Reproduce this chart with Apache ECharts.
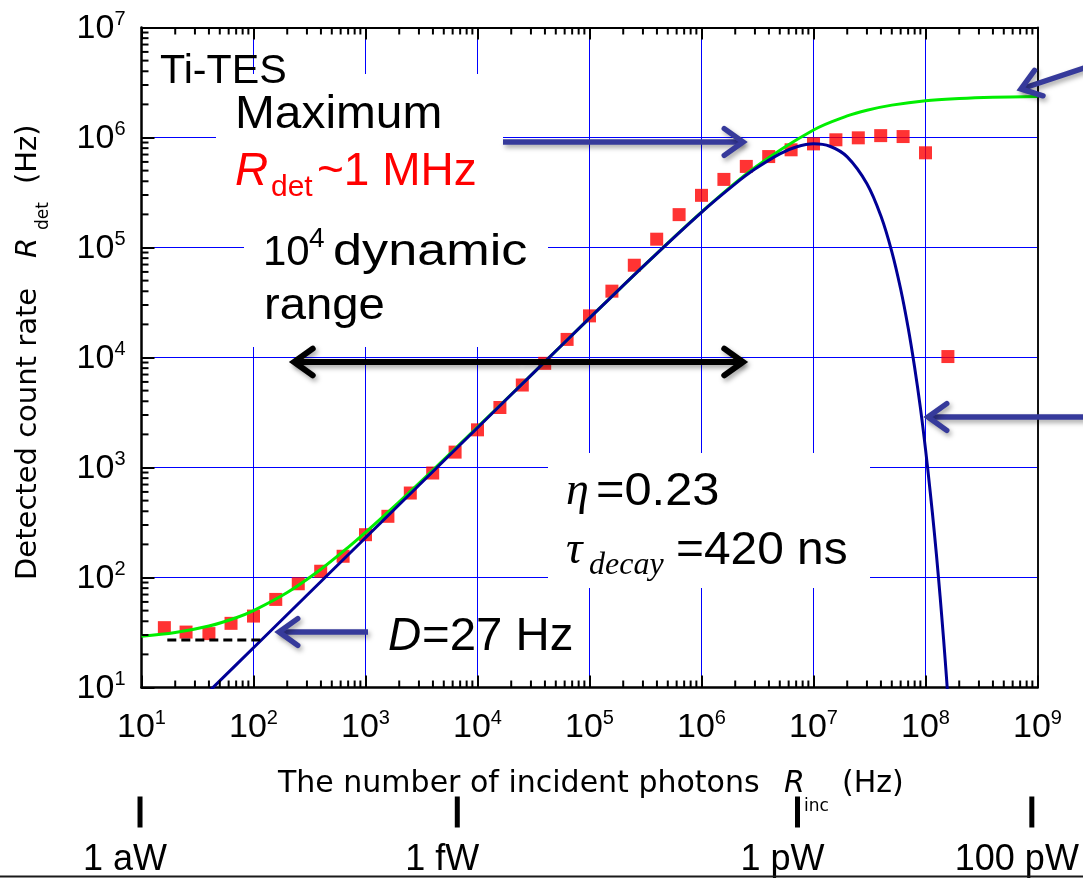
<!DOCTYPE html>
<html>
<head>
<meta charset="utf-8">
<script src="https://cdn.jsdelivr.net/npm/echarts@6/dist/echarts.min.js"></script>
<style>
html,body{margin:0;padding:0;background:#ffffff;}
#chart{width:1083px;height:878px;}
</style>
</head>
<body>
<div id="chart"></div>
<script>
// Measured detected count rate of the Ti-TES vs. incident photon rate (Hz)
const incidentRate = [16, 25, 40, 63, 100, 158, 251, 398, 631, 1000, 1585, 2512, 3981, 6310,
  1.0e4, 1.585e4, 2.512e4, 3.981e4, 6.31e4, 1.0e5, 1.585e5, 2.512e5, 3.981e5, 6.31e5,
  1.0e6, 1.585e6, 2.512e6, 3.981e6, 6.31e6, 1.0e7, 1.585e7, 2.512e7, 3.981e7, 6.31e7,
  1.0e8, 1.585e8];
const detectedRate = [35, 31.9, 30.9, 38.3, 44.6, 63.2, 87.7, 114, 156, 245, 360, 586, 891, 1380,
  2200, 3510, 5620, 8850, 14600, 23900, 40100, 69000, 119000, 199000,
  298000, 416000, 546000, 671000, 773000, 875000, 953000, 993000, 1040000, 1020000,
  726000, 10200];

// Non-paralyzable response curve (green)
const nonParalyzableX = [10, 20, 40, 70, 100, 200, 400, 700, 1000, 2000, 4000, 1e4, 3e4, 1e5, 3e5,
  1e6, 3e6, 1e7, 2e7, 3e7, 5e7, 1e8, 2e8, 4e8, 1e9];
const nonParalyzableY = [29.3, 31.6, 36.2, 43.1, 50, 73, 119, 188, 257, 487, 947, 2330, 6880, 22800, 67100,
  210000, 535000, 1170000, 1570000, 1770000, 1970000, 2160000, 2260000, 2320000, 2360000];

// Paralyzable response curve (navy)
const paralyzableX = [40, 100, 300, 1000, 3000, 1e4, 3e4, 1e5, 3e5, 1e6, 2e6, 3e6, 5e6, 7e6, 1e7,
  1.4e7, 2e7, 3e7, 4e7, 5e7, 6e7, 7e7, 8e7, 9e7, 1e8, 1.1e8, 1.2e8, 1.3e8, 1.4e8, 1.5e8, 1.6e8];
const paralyzableY = [9.2, 23, 69, 230, 690, 2300, 6880, 22800, 67100, 209000, 379000, 516000, 710000, 819000, 877000,
  833000, 667000, 380000, 193000, 91800, 41900, 18600, 8100, 3500, 1470, 608, 255, 105, 43, 17.6, 7.1];

// Dark count level D
const darkCountX = [17, 117];
const darkCountY = [27, 27];

// Optical power scale drawn under the photon-rate axis
const powerMarkRate = [9.7, 6.6e3, 7.2e6, 8.9e8];
const powerMarkLabel = ['1 aW', '1 fW', '1 pW', '100 pW'];

// Axis ranges and tick values
const xMin = 10, xMax = 1e9;
const yMin = 10, yMax = 1e7;
const minorMultipliers = [2, 3, 4, 5, 6, 7, 8, 9];

const SANS = '"Liberation Sans", Arial, Helvetica, sans-serif';
const SERIF = '"Liberation Serif", "Times New Roman", serif';
const TITLE = '"DejaVu Sans", "Liberation Sans", sans-serif';
const ARROW = '#363a9b';
const GRID_BLUE = '#0000ff';

function zip(xs, ys) { return xs.map((x, i) => [x, ys[i]]); }

function minorValues(lo, hi) {
  const out = [];
  for (let d = lo; d < hi; d *= 10) minorMultipliers.forEach(m => out.push(m * d));
  return out;
}

// text element positioned by its alphabetic baseline
function txt(text, left, baseline, size, opts) {
  opts = opts || {};
  const family = opts.family || SANS;
  const style = (opts.italic ? 'italic ' : '') + size + 'px ' + family;
  return {
    type: 'text', z: 30, x: left, y: baseline - 0.347 * size, scaleX: opts.sx || 1,
    style: { text: text, font: style, fill: opts.color || '#000', align: 'left', verticalAlign: 'middle' }
  };
}
// rotated (reading bottom to top) text; baselineX is the screen x of the baseline
function vtxt(text, baselineX, start, size, opts) {
  opts = opts || {};
  const style = (opts.italic ? 'italic ' : '') + size + 'px ' + (opts.family || TITLE);
  return {
    type: 'text', z: 30, x: baselineX - 0.347 * size, y: start, rotation: Math.PI / 2,
    style: { text: text, font: style, fill: '#000', align: 'left', verticalAlign: 'middle' }
  };
}

const shadow = { shadowBlur: 5, shadowColor: 'rgba(0,0,0,0.35)', shadowOffsetX: 2, shadowOffsetY: 3 };
function arrow(x1, y1, x2, y2, color, width) {
  // shaft from (x1,y1) to the tip (x2,y2) with an open V head
  const a = Math.atan2(y1 - y2, x1 - x2);
  const L = 23, s = 0.62;
  const p1 = [x2 + L * Math.cos(a + s), y2 + L * Math.sin(a + s)];
  const p2 = [x2 + L * Math.cos(a - s), y2 + L * Math.sin(a - s)];
  return [
    { type: 'line', z: 25, shape: { x1: x1, y1: y1, x2: x2, y2: y2 },
      style: Object.assign({ stroke: color, lineWidth: width, lineCap: 'butt' }, shadow) },
    { type: 'polyline', z: 25, shape: { points: [p1, [x2, y2], p2] },
      style: Object.assign({ stroke: color, lineWidth: width, fill: null, lineCap: 'round', lineJoin: 'miter' }, shadow) }
  ];
}

// white text-box backgrounds that interrupt the grid
const whiteBoxes = [
  [216, 74, 287, 141],
  [244, 215, 304, 132],
  [548, 453, 322, 135]
].map(r => ({ type: 'rect', z: 1, shape: { x: r[0], y: r[1], width: r[2], height: r[3] },
  style: { fill: '#ffffff' }, silent: true }));

const labelRich = {
  b: { fontSize: 34, fontFamily: SANS, color: '#000', lineHeight: 36, verticalAlign: 'bottom' },
  s: { fontSize: 20, fontFamily: SANS, color: '#000', lineHeight: 20, verticalAlign: 'top' }
};
const powerLabel = v => '{b|10}{s|' + Math.round(Math.log10(v)) + '}';

const graphics = [].concat(
  whiteBoxes,
  [
    txt('Ti-TES', 160, 86, 40, { sx: 1.03 }),
    txt('Maximum', 235, 131, 46, { sx: 1.04 }),
    txt('R', 235, 188, 46, { italic: true, color: '#ff0000' }),
    txt('det', 271, 198, 30, { color: '#ff0000' }),
    txt('~1 MHz', 317, 188, 46, { color: '#ff0000' }),
    txt('10', 263, 268, 42),
    txt('4', 309, 249, 28),
    txt('dynamic', 333, 268, 45, { sx: 1.16 }),
    txt('range', 264, 322, 45, { sx: 1.05 }),
    txt('\u03b7', 566, 508, 46, { italic: true, family: SERIF }),
    txt('=0.23', 596, 508, 46, { sx: 1.06 }),
    txt('\u03c4', 566, 567, 46, { italic: true, family: SERIF }),
    txt('decay', 589, 577, 32, { italic: true, family: SERIF }),
    txt('=420 ns', 676, 567, 46, { sx: 1.04 }),
    txt('D', 388, 653, 46, { italic: true }),
    txt('=27 Hz', 422, 653, 46, { sx: 1.03 }),
    // x axis title
    txt('The number of incident photons', 278, 795, 30, { family: TITLE }),
    txt('R', 784, 795, 30, { italic: true, family: TITLE }),
    txt('inc', 804, 812, 17, { family: TITLE }),
    txt('(Hz)', 842, 795, 30, { family: TITLE }),
    // y axis title
    vtxt('Detected count rate', 39, 580, 29),
    vtxt('R', 39, 258, 29, { italic: true }),
    vtxt('det', 49, 230, 17),
    vtxt('(Hz)', 39, 184, 29),
    { type: 'rect', z: 20, shape: { x: 0, y: 875.5, width: 1083, height: 2 }, style: { fill: '#1a1a1a' } }
  ],
  arrow(503, 142, 743, 142, ARROW, 5.5),
  arrow(368, 632, 279, 632, ARROW, 5.5),
  arrow(1090, 417, 928, 417, ARROW, 5.5),
  arrow(1090, 66, 1021, 89, ARROW, 5.5),
  arrow(520, 362, 294, 362, '#000', 6),
  arrow(520, 362, 743, 362, '#000', 6)
);

const chart = echarts.init(document.getElementById('chart'), null, { renderer: 'canvas' });

chart.setOption({
  animation: false,
  backgroundColor: '#ffffff',
  grid: { left: 141.5, right: 45.5, top: 27.5, bottom: 190.5, containLabel: false, outerBoundsMode: 'none' },
  xAxis: [
    {
      type: 'log', logBase: 10, min: xMin, max: xMax, position: 'bottom',
      axisLine: { show: true, onZero: false, lineStyle: { color: '#000', width: 2.5 } },
      axisTick: { show: true, inside: true, length: 12, lineStyle: { color: '#000', width: 2 } },
      axisLabel: { margin: 21, formatter: powerLabel, rich: labelRich, showMinLabel: true, showMaxLabel: true, hideOverlap: false },
      splitLine: { show: true, showMinLine: false, showMaxLine: false, lineStyle: { color: GRID_BLUE, width: 1 } },
      minorTick: { show: false }, minorSplitLine: { show: false }
    },
    {
      type: 'log', logBase: 10, min: xMin, max: xMax, position: 'top',
      axisLine: { show: true, onZero: false, lineStyle: { color: '#000', width: 2 } },
      axisTick: { show: true, inside: true, length: 12, lineStyle: { color: '#000', width: 2 } },
      axisLabel: { show: false }, splitLine: { show: false }, minorSplitLine: { show: false }
    }
  ],
  yAxis: [
    {
      type: 'log', logBase: 10, min: yMin, max: yMax, position: 'left',
      axisLine: { show: true, onZero: false, lineStyle: { color: '#000', width: 2.5 } },
      axisTick: { show: true, inside: true, length: 13, lineStyle: { color: '#000', width: 2 } },
      axisLabel: { margin: 16, formatter: powerLabel, rich: labelRich, showMinLabel: true, showMaxLabel: true, hideOverlap: false },
      splitLine: { show: true, showMinLine: false, showMaxLine: false, lineStyle: { color: GRID_BLUE, width: 1 } },
      minorTick: { show: false }, minorSplitLine: { show: false }
    },
    {
      type: 'log', logBase: 10, min: yMin, max: yMax, position: 'right',
      axisLine: { show: true, onZero: false, lineStyle: { color: '#111', width: 2 } },
      axisTick: { show: false }, axisLabel: { show: false }, splitLine: { show: false }, minorSplitLine: { show: false }
    }
  ],
  graphic: { elements: graphics },
  series: [
    {
      name: 'measured', type: 'scatter', z: 2, symbol: 'rect', symbolSize: 13,
      itemStyle: { color: '#ff0000' }, data: zip(incidentRate, detectedRate), silent: true
    },
    {
      name: 'non-paralyzable', type: 'line', z: 3, smooth: 0.35, showSymbol: false, clip: true,
      lineStyle: { color: '#00ee00', width: 3 }, data: zip(nonParalyzableX, nonParalyzableY), silent: true
    },
    {
      name: 'paralyzable', type: 'line', z: 4, smooth: 0.35, showSymbol: false, clip: true,
      lineStyle: { color: '#000096', width: 3 }, data: zip(paralyzableX, paralyzableY), silent: true
    },
    {
      name: 'dark count', type: 'line', z: 4, showSymbol: false,
      lineStyle: { color: '#000', width: 3, type: [9, 5] }, data: zip(darkCountX, darkCountY), silent: true
    },
    {
      // minor ticks (2..9 of each decade) on the bottom and top frame
      name: 'x minor ticks', type: 'custom', silent: true, z: 6, clip: false,
      encode: { x: 0, y: 1 },
      data: minorValues(xMin, xMax).map(v => [v, yMin]),
      renderItem: (params, api) => {
        const b = api.coord([api.value(0), yMin]);
        const t = api.coord([api.value(0), yMax]);
        return { type: 'group', children: [
          { type: 'rect', shape: { x: b[0] - 1, y: b[1] - 7, width: 2, height: 7 }, style: { fill: '#000' } },
          { type: 'rect', shape: { x: t[0] - 1, y: t[1], width: 2, height: 7 }, style: { fill: '#000' } }
        ] };
      }
    },
    {
      // minor ticks on the left frame
      name: 'y minor ticks', type: 'custom', silent: true, z: 6, clip: false,
      encode: { x: 0, y: 1 },
      data: minorValues(yMin, yMax).map(v => [xMin, v]),
      renderItem: (params, api) => {
        const p = api.coord([xMin, api.value(1)]);
        return { type: 'rect', shape: { x: p[0], y: p[1] - 1, width: 7, height: 2 }, style: { fill: '#000' } };
      }
    },
    {
      // optical power scale: bold marks and labels below the axis title
      name: 'power scale', type: 'custom', silent: true, z: 6, clip: false,
      encode: { x: 0, y: 1 },
      data: powerMarkRate.map(r => [r, yMin]),
      renderItem: (params, api) => {
        const p = api.coord([api.value(0), yMin]);
        return { type: 'group', children: [
          { type: 'rect', shape: { x: p[0] - 2.5, y: p[1] + 109, width: 5, height: 31 }, style: { fill: '#000' } },
          { type: 'text', x: p[0] - 15, y: p[1] + 173,
            style: { text: powerMarkLabel[params.dataIndex], font: '36px ' + SANS, fill: '#000', align: 'center', verticalAlign: 'middle' } }
        ] };
      }
    }
  ]
});
</script>
</body>
</html>
